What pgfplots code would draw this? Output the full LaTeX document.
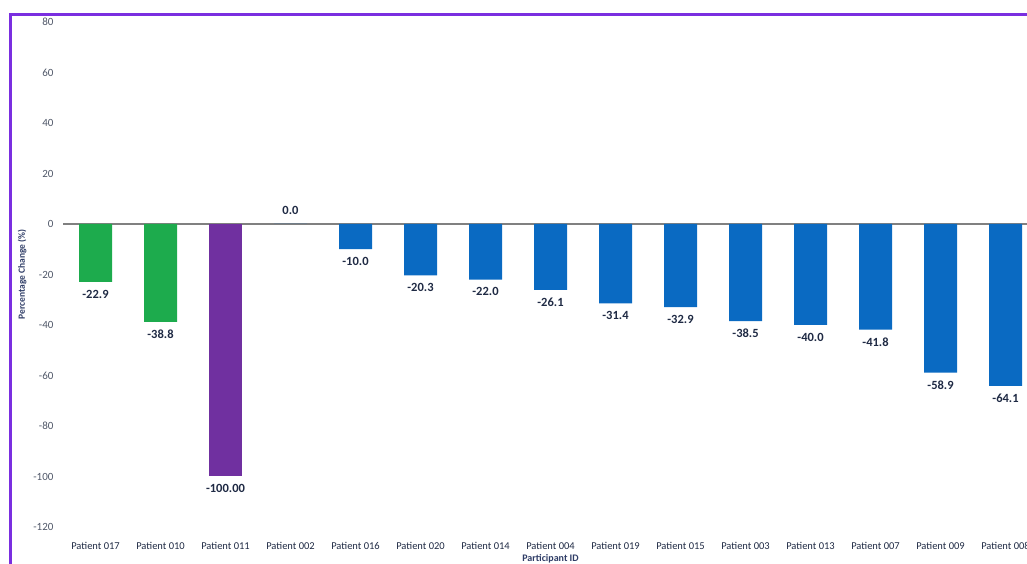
\documentclass[border=0pt]{standalone}
\usepackage{pgfplots}
\pgfplotsset{compat=1.18}
\usepackage{fontspec}
\setmainfont{Carlito}
\definecolor{bGreen}{HTML}{1DAB4D}
\definecolor{bPurple}{HTML}{7030A0}
\definecolor{bBlue}{HTML}{0A6AC2}
\definecolor{frameC}{HTML}{7A2EE0}
\definecolor{tickC}{HTML}{4F5768}
\definecolor{lblC}{HTML}{1F2A44}
\definecolor{titleC}{HTML}{2E3C66}
\begin{document}
\begin{tikzpicture}
\begin{axis}[
  at={(63pt,37pt)}, anchor=south west,
  scale only axis, width=975pt, height=505pt,
  xmin=-0.5, xmax=14.5, ymin=-120, ymax=80,
  ytick={-120,-100,-80,-60,-40,-20,0,20,40,60,80},
  yticklabels={-120,-100,-80,-60,-40,-20,0,20,40,60,80},
  xtick={0,...,14},
  xticklabels={Patient 017,Patient 010,Patient 011,Patient 002,Patient 016,Patient 020,Patient 014,Patient 004,Patient 019,Patient 015,Patient 003,Patient 013,Patient 007,Patient 009,Patient 008},
  axis line style={draw=none}, tick style={draw=none},
  yticklabel style={font=\fontsize{11}{12}\selectfont, text=tickC, xshift=-6pt},
  xticklabel style={font=\fontsize{10.5}{12}\selectfont, text=lblC, yshift=-7pt},
  xlabel={Participant ID}, ylabel={Percentage Change (\%)},
  xlabel style={at={(axis description cs:0.5,-0.0634)}, anchor=center, font=\bfseries\fontsize{10}{12}\selectfont, text=titleC},
  ylabel style={at={(axis description cs:-0.042,0.5)}, anchor=center, font=\bfseries\fontsize{9.5}{12}\selectfont, text=titleC},
  ybar, bar shift=0pt, bar width=33pt,
  nodes near coords, point meta=explicit symbolic,
  every node near coord/.append style={font=\bfseries\fontsize{12.5}{14}\selectfont, text=lblC, anchor=north, yshift=-4.5pt},
]
\draw[draw=gray, line width=1.6pt] (axis cs:-0.5,0) -- (axis cs:14.5,0);
\addplot[fill=bGreen, draw=none] table[meta=l] {
x y l
0 -22.9 -22.9
1 -38.8 -38.8
};
\addplot[fill=bPurple, draw=none] table[meta=l] {
x y l
2 -100 -100.00
};
\addplot[fill=bBlue, draw=none, every node near coord/.append style={anchor=south, yshift=10.5pt}] table[meta=l] {
x y l
3 0 0.0
};
\addplot[fill=bBlue, draw=none] table[meta=l] {
x y l
4 -10.0 -10.0
5 -20.3 -20.3
6 -22.0 -22.0
7 -26.1 -26.1
8 -31.4 -31.4
9 -32.9 -32.9
10 -38.5 -38.5
11 -40.0 -40.0
12 -41.8 -41.8
13 -58.9 -58.9
14 -64.1 -64.1
};
\end{axis}
\draw[frameC, line width=3.2pt] (10.5pt,-5pt) -- (10.5pt,549.5pt) -- (1040pt,549.5pt);
\pgfresetboundingbox
\useasboundingbox (0,0) rectangle (1027pt,564pt);
\end{tikzpicture}
\end{document}
